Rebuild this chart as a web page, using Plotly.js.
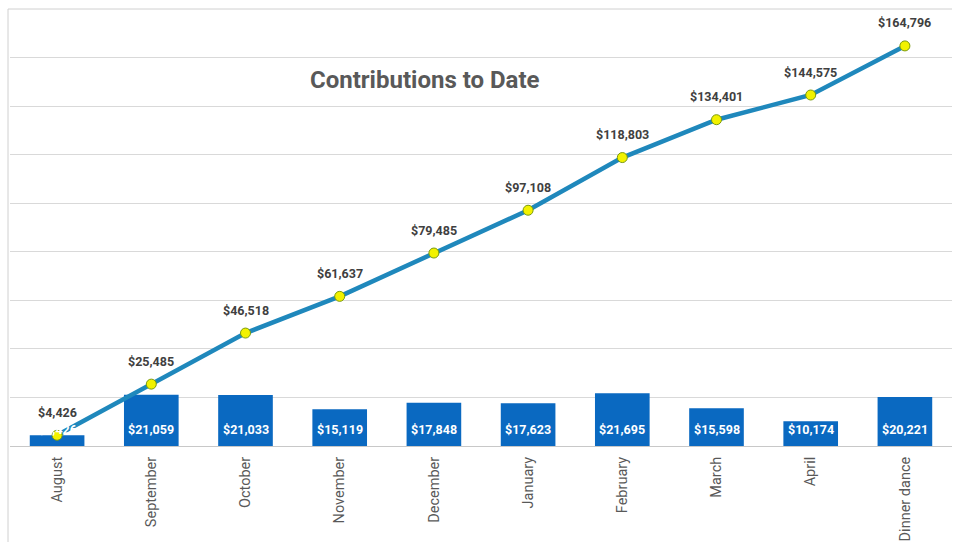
<!DOCTYPE html>
<html>
<head>
<meta charset="utf-8">
<script src="https://cdn.plot.ly/plotly-3.0.1.min.js"></script>
<style>html,body{margin:0;padding:0;background:#fff;}#chart{width:956px;height:542px;}</style>
</head>
<body>
<div id="chart"></div>
<script>
const categories = ["August","September","October","November","December","January","February","March","April","Dinner dance"];
const monthly = [4426,21059,21033,15119,17848,17623,21695,15598,10174,20221];
const cumulative = [4426,25485,46518,61637,79485,97108,118803,134401,144575,164796];

const fmt = v => "$" + v.toLocaleString("en-US");

const barTrace = {
  type: "bar", x: categories, y: monthly,
  marker: {color: "#0A69C1"},
  hoverinfo: "skip", showlegend: false
};
const lineTrace = {
  type: "scatter", mode: "lines+markers", x: categories, y: cumulative,
  line: {color: "#1F88BC", width: 4.5},
  marker: {color: "#F2F200", size: 10, line: {color: "#7A9A10", width: 1}},
  hoverinfo: "skip", showlegend: false
};

const annotations = [];
categories.forEach((c, i) => {
  annotations.push({x: c, xref: "x", yref: "y", text: fmt(monthly[i]),
    showarrow: false, yanchor: "middle", y: 0, yshift: 17,
    font: {family: "Roboto", size: 12.5, color: "#ffffff", weight: 700}});
});
categories.forEach((c, i) => {
  annotations.push({x: c, y: cumulative[i], xref: "x", yref: "y", text: fmt(cumulative[i]),
    showarrow: false, yanchor: "middle", yshift: 23,
    font: {family: "Roboto", size: 12.5, color: "#404040", weight: 700}});
});
annotations.push({xref: "paper", yref: "paper", x: (425-10)/942, y: 1 - (80-9)/437,
  text: "Contributions to Date", showarrow: false, xanchor: "center", yanchor: "middle",
  font: {family: "Roboto", size: 24, color: "#595959", weight: 700}});

const layout = {
  width: 956, height: 542,
  margin: {l: 10, r: 4, t: 9, b: 96, pad: 0, autoexpand: false},
  paper_bgcolor: "#ffffff", plot_bgcolor: "#ffffff",
  bargap: 0.42,
  xaxis: {type: "category", range: [-0.5, categories.length - 0.5], automargin: false, tickangle: -90, showgrid: false, showline: true, linecolor: "#c8c8c8", linewidth: 1,
    ticks: "", ticklen: 0, ticklabelstandoff: 4, tickfont: {family: "Roboto", size: 14.5, color: "#595959"}, fixedrange: true},
  yaxis: {automargin: false, range: [0, 180000], dtick: 20000, showticklabels: false, showgrid: true, gridcolor: "#d9d9d9",
    gridwidth: 1, zeroline: false, showline: false, fixedrange: true},
  shapes: [
    {type: "line", xref: "paper", yref: "paper", x0: -2/942, x1: -2/942, y0: -96/437, y1: 1,
     line: {color: "#d0d0d0", width: 1}},
    {type: "line", xref: "paper", yref: "paper", x0: -2/942, x1: 1, y0: 1, y1: 1,
     line: {color: "#d0d0d0", width: 1}}
  ],
  annotations: annotations
};

Plotly.newPlot("chart", [barTrace, lineTrace], layout, {displayModeBar: false, staticPlot: true});
</script>
</body>
</html>
